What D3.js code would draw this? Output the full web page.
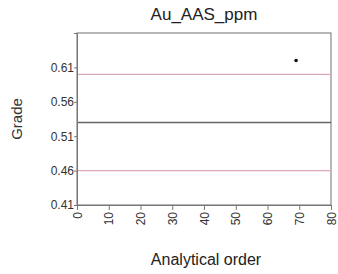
<!DOCTYPE html>
<html><head><meta charset="utf-8">
<script src="https://cdn.jsdelivr.net/npm/d3@7"></script>
<style>body{margin:0;background:#fff}svg{display:block}text{font-family:"Liberation Sans",Arial,sans-serif}</style>
</head><body>
<svg id="c" width="338" height="274"></svg>
<script>
const title = "Au_AAS_ppm";
const xLabel = "Analytical order";
const yLabel = "Grade";
const xTicks = [0,10,20,30,40,50,60,70,80];
const yTicks = [0.41,0.46,0.51,0.56,0.61];
const orders = [69];
const grades = [0.62];
const meanValue = [0.53];
const limitValues = [0.46,0.60];
const xDomain = [0,80];
const yDomain = [0.41,0.66];

const svg = d3.select("#c");
const m = {l:77,r:331,t:33,b:205};
const x = d3.scaleLinear().domain(xDomain).range([m.l,m.r]);
const y = d3.scaleLinear().domain(yDomain).range([m.b,m.t]);

svg.append("rect").attr("x",m.l).attr("y",m.t).attr("width",m.r-m.l).attr("height",m.b-m.t)
  .attr("fill","#fff").attr("stroke","#888").attr("stroke-width",1.2);

svg.selectAll(".lim").data(limitValues).enter().append("line")
  .attr("x1",m.l).attr("x2",m.r).attr("y1",d=>y(d)).attr("y2",d=>y(d))
  .attr("stroke","#dcaab4").attr("stroke-width",1.3);
svg.selectAll(".mean").data(meanValue).enter().append("line")
  .attr("x1",m.l).attr("x2",m.r).attr("y1",d=>y(d)).attr("y2",d=>y(d))
  .attr("stroke","#666").attr("stroke-width",1.4);

svg.selectAll(".pt").data(orders).enter().append("circle")
  .attr("cx",d=>x(d)).attr("cy",(d,i)=>y(grades[i])).attr("r",1.8).attr("fill","#111");

const ya = svg.append("g").attr("transform",`translate(${m.l},0)`)
  .call(d3.axisLeft(y).tickValues(yTicks).tickFormat(d3.format(".2f")).tickSize(3));
ya.selectAll("text").attr("font-size",12).attr("fill","#333").attr("x",-3);
ya.selectAll("line,path").attr("stroke","#777");

const xa = svg.append("g").attr("transform",`translate(0,${m.b})`)
  .call(d3.axisBottom(x).tickValues(xTicks).tickSize(5));
xa.selectAll("text").attr("font-size",12).attr("fill","#333")
  .attr("transform","rotate(-90)").attr("text-anchor","end")
  .attr("x",-7).attr("y",0).attr("dy","0.35em");
xa.selectAll("line,path").attr("stroke","#777");

svg.append("text").attr("x",204).attr("y",20).attr("text-anchor","middle")
  .attr("font-size",17).attr("fill","#222").text(title);
svg.append("text").attr("x",206).attr("y",265).attr("text-anchor","middle")
  .attr("font-size",16).attr("fill","#222").text(xLabel);
svg.append("text").attr("transform","translate(22,119) rotate(-90)").attr("text-anchor","middle")
  .attr("font-size",15).attr("fill","#333").text(yLabel);
</script>
</body></html>
